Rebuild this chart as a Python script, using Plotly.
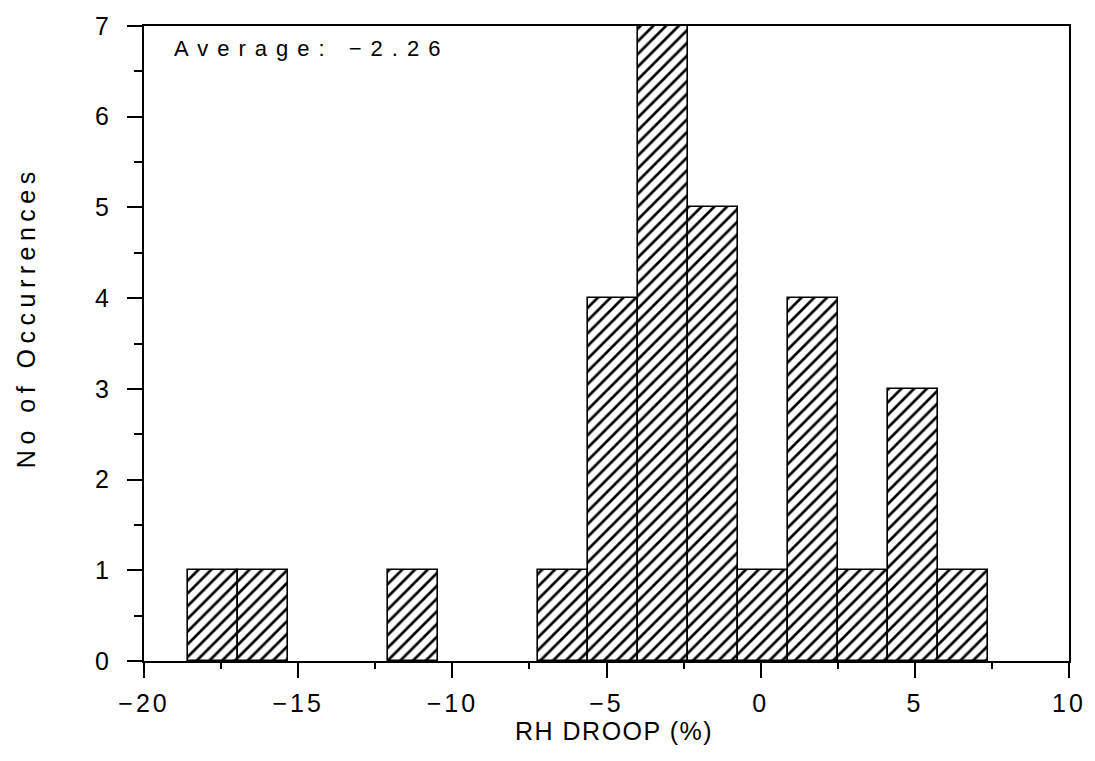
import plotly.graph_objects as go

# ---- data ----
bin_start = -18.57
bin_width = 1.622
counts = [1, 1, 0, 0, 1, 0, 0, 1, 4, 7, 5, 1, 4, 1, 3, 1]
average_label = "Average: \u22122.26"
x_title = "RH DROOP (%)"
y_title = "No of Occurrences"
x_ticks = [-20, -15, -10, -5, 0, 5, 10]
x_tick_text = ["\u221220", "\u221215", "\u221210", "\u22125", "0", "5", "10"]
y_ticks = [0, 1, 2, 3, 4, 5, 6, 7]

centers = [bin_start + bin_width * (i + 0.5) for i in range(len(counts))]
bar_heights = [c if c > 0 else None for c in counts]

FONT = "Liberation Sans"

fig = go.Figure()
fig.add_trace(go.Bar(
    x=centers, y=bar_heights, width=bin_width,
    marker=dict(color="white",
                line=dict(color="black", width=1.6),
                pattern=dict(shape="/", fgcolor="black", bgcolor="white",
                             fgopacity=1, size=9, solidity=0.3)),
    showlegend=False,
))

axis_common = dict(showgrid=False, zeroline=False, showline=True, linecolor="black",
                   linewidth=2, mirror=True, ticks="outside", tickcolor="black",
                   tickwidth=1.5, ticklen=15,
                   tickfont=dict(family=FONT, size=25, color="black"))

fig.update_xaxes(range=[-20, 10], tickvals=x_ticks, ticktext=x_tick_text,
                 minor=dict(dtick=2.5, tick0=0, ticks="outside", ticklen=6,
                            tickcolor="black", tickwidth=1.5),
                 ticklabelstandoff=4, **axis_common)
fig.update_yaxes(range=[0, 7], tickvals=y_ticks,
                 minor=dict(dtick=0.5, tick0=0, ticks="outside", ticklen=8,
                            tickcolor="black", tickwidth=1.5),
                 ticklabelstandoff=10, **axis_common)

fig.update_layout(
    width=1095, height=761,
    margin=dict(l=144, r=21, t=19, b=100),
    plot_bgcolor="white", paper_bgcolor="white",
    bargap=0,
    annotations=[
        dict(text=average_label, x=0.1806, y=0.964, xref="paper", yref="paper",
             xanchor="center", yanchor="middle", showarrow=False,
             font=dict(family=FONT, size=22, color="black")),
        dict(text=x_title, x=0.5086, y=-0.1106, xref="paper", yref="paper",
             xanchor="center", yanchor="middle", showarrow=False,
             font=dict(family=FONT, size=25, color="black")),
        dict(text=y_title, x=-0.128, y=0.5405, xref="paper", yref="paper",
             xanchor="center", yanchor="middle", showarrow=False, textangle=-90,
             font=dict(family=FONT, size=25, color="black")),
    ],
)

css = ('.xtick text,.ytick text{letter-spacing:3px}'
       'g.annotation[data-index="0"] text{letter-spacing:9px}'
       'g.annotation[data-index="1"] text{letter-spacing:1.5px}'
       'g.annotation[data-index="2"] text{letter-spacing:5.5px}')
post = ("var s=document.createElement('style');s.textContent='" + css.replace("'", "\\'") +
        "';document.head.appendChild(s);")

fig.write_html("out.html", post_script=post)
